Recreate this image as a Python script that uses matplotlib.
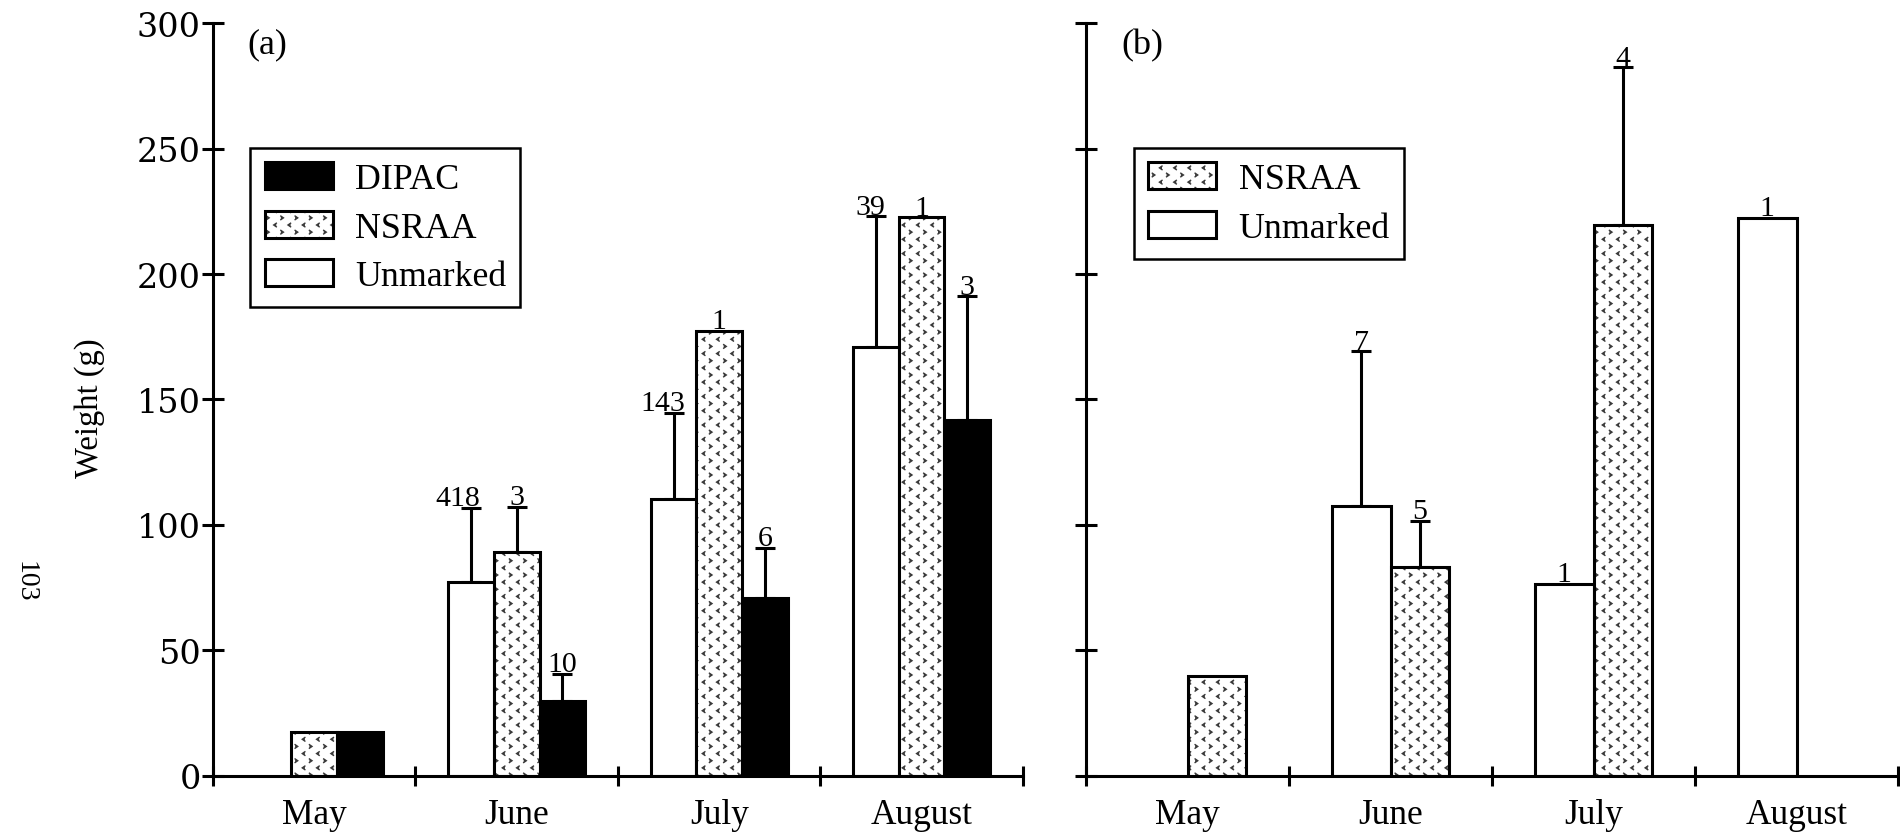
import numpy as np
import matplotlib
matplotlib.use("Agg")
import matplotlib.pyplot as plt
from matplotlib import hatch as mhatch
from matplotlib.path import Path

months = ["May", "June", "July", "August"]

# panel (a): mean weight, upper SD and sample size per month (nan = no fish)
a_unmarked = [np.nan, 77.1, 110.2, 171.0]
a_unmarked_sd = [0, 29.6, 34.3, 52.0]
a_unmarked_n = ["", "418", "143", "39"]
a_nsraa = [17.4, 89.1, 177.3, 222.6]
a_nsraa_sd = [0, 18.2, 0, 0]
a_nsraa_n = ["", "3", "1", "1"]
a_dipac = [17.5, 29.9, 71.0, 141.8]
a_dipac_sd = [0, 10.6, 19.8, 49.3]
a_dipac_n = ["", "10", "6", "3"]

# panel (b)
b_unmarked = [np.nan, 107.5, 76.6, 222.4]
b_unmarked_sd = [0, 61.7, 0, 0]
b_unmarked_n = ["", "7", "1", "1"]
b_nsraa = [39.8, 83.4, 219.6, np.nan]
b_nsraa_sd = [0, 18.1, 62.8, 0]
b_nsraa_n = ["", "5", "4", ""]

# the big counts on the first bar of (a) sit a little left of the error bar
a_unmarked_nudge = [0, -10, -7.5, -4]

LW = 2.2


class ChevronHatch(mhatch.HatchPatternBase):
    """staggered rows of small '<' and '>' marks (used for the 'o' hatch)."""

    def __init__(self, hatch, density):
        n = hatch.count("o")
        self.rows = 14 * n
        self.cols = 7 * n
        self.num_vertices = self.rows * self.cols * 3

    def set_vertices_and_codes(self, vertices, codes):
        w, h = 0.013, 0.018
        k = 0
        for r in range(self.rows):
            y = (r + 0.5) / self.rows
            d = -1 if r % 2 == 0 else 1
            for c in range(self.cols):
                x = (c + 0.25 + 0.5 * (r % 2)) / self.cols
                vertices[k:k + 3] = [[x - d * w, y + h], [x + d * w, y],
                                     [x - d * w, y - h]]
                codes[k:k + 3] = [Path.MOVETO, Path.LINETO, Path.LINETO]
                k += 3


mhatch._hatch_types = [t for t in mhatch._hatch_types
                       if t is not mhatch.SmallCircles] + [ChevronHatch]

plt.rcParams["font.family"] = "serif"
plt.rcParams["font.serif"] = ["Liberation Serif", "DejaVu Serif"]
plt.rcParams["hatch.linewidth"] = 1.0

FILLS = {"Unmarked": "white", "NSRAA": "white", "DIPAC": "black"}


def draw_series(ax, x, vals, sd, labels, width, name, nudges=None):
    x = np.asarray(x, float)
    vals = np.asarray(vals, float)
    sd = np.asarray(sd, float)
    ok = ~np.isnan(vals)
    handle = []
    if name == "NSRAA":
        # grey chevron texture first, black outline on top
        handle.append(ax.bar(x[ok], vals[ok], width, facecolor="white",
                             edgecolor="#3a3a3a", linewidth=0, hatch="o",
                             zorder=2))
        handle.append(ax.bar(x[ok], vals[ok], width, fill=False,
                             edgecolor="black", linewidth=LW, zorder=2))
    else:
        handle.append(ax.bar(x[ok], vals[ok], width, facecolor=FILLS[name],
                             edgecolor="black", linewidth=LW, zorder=2))
    err = ok & (sd > 0)
    if err.any():
        ax.errorbar(x[err], vals[err], yerr=[np.zeros(err.sum()), sd[err]],
                    fmt="none", ecolor="black", elinewidth=LW, capsize=7,
                    capthick=LW, zorder=1)
    if nudges is None:
        nudges = [0] * len(x)
    for xi, v, s, lab, dx in zip(x, vals, sd, labels, nudges):
        if lab and not np.isnan(v):
            ax.annotate(lab, (xi, v + s), xytext=(dx, 2),
                        textcoords="offset points", ha="center",
                        va="baseline", fontsize=21.5)
    return tuple(handle)


def style_axis(ax, tag):
    ax.set_xlim(-0.5, len(months) - 0.5)
    ax.set_ylim(0, 300)
    ax.set_yticks(np.arange(0, 301, 50))
    ax.set_xticks(np.arange(len(months) + 1) - 0.5)
    ax.set_xticklabels([])
    ax.set_xticks(np.arange(len(months)), months, minor=True)
    for s in ("top", "right"):
        ax.spines[s].set_visible(False)
    for s in ("left", "bottom"):
        ax.spines[s].set_linewidth(LW)
    ax.tick_params(axis="y", direction="inout", length=16.5, width=LW,
                   pad=0.5, labelsize=24, labelfontfamily="DejaVu Serif")
    ax.tick_params(axis="x", which="major", direction="inout", length=15,
                   width=LW)
    ax.tick_params(axis="x", which="minor", length=0, pad=16,
                   labelsize=25.5)
    ax.text(0.043, 0.994, tag, transform=ax.transAxes, ha="left", va="top",
            fontsize=26)


def add_legend(ax, handles, labels, x0):
    leg = ax.legend(handles, labels, loc="upper left",
                    bbox_to_anchor=(x0, 0.834), borderaxespad=0,
                    fontsize=25.8, frameon=True, fancybox=False, framealpha=1,
                    edgecolor="black", handlelength=1.9, handleheight=0.78,
                    handletextpad=0.62, labelspacing=0.4, borderpad=0.4)
    leg.get_frame().set_linewidth(1.8)


fig = plt.figure(figsize=(19, 8.37), dpi=100)
ax_a = fig.add_axes([0.1121, 0.0720, 0.4263, 0.8991])
ax_b = fig.add_axes([0.5716, 0.0720, 0.4274, 0.8991])

pos = np.arange(len(months))

# (a) three stocks side by side
w = 0.225
h_u = draw_series(ax_a, pos - w, a_unmarked, a_unmarked_sd, a_unmarked_n,
                  w, "Unmarked", a_unmarked_nudge)
h_n = draw_series(ax_a, pos, a_nsraa, a_nsraa_sd, a_nsraa_n, w, "NSRAA")
h_d = draw_series(ax_a, pos + w, a_dipac, a_dipac_sd, a_dipac_n, w, "DIPAC")
style_axis(ax_a, "(a)")
ax_a.set_ylabel("Weight (g)", fontsize=23.5)
ax_a.yaxis.set_label_coords(-0.133, 0.49)
add_legend(ax_a, [h_d, h_n, h_u], ["DIPAC", "NSRAA", "Unmarked"], 0.046)

# (b) unmarked and NSRAA only
w = 0.29
hb_u = draw_series(ax_b, pos - w / 2, b_unmarked, b_unmarked_sd, b_unmarked_n,
                   w, "Unmarked")
hb_n = draw_series(ax_b, pos + w / 2, b_nsraa, b_nsraa_sd, b_nsraa_n, w,
                   "NSRAA")
style_axis(ax_b, "(b)")
ax_b.tick_params(axis="y", labelleft=False)
add_legend(ax_b, [hb_n, hb_u], ["NSRAA", "Unmarked"], 0.059)

# page number of the original report
fig.text(0.0132, 0.305, "103", rotation=270, ha="center", va="center",
         fontsize=20)

fig.savefig("out.png", dpi=100)
